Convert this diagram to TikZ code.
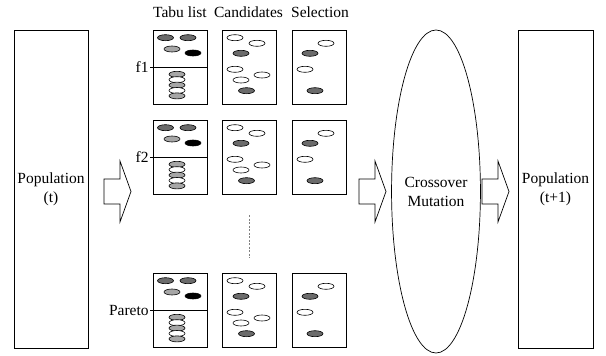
\documentclass[tikz,border=0pt]{standalone}
\usepackage{fontspec}
\setmainfont{Liberation Serif}
\usetikzlibrary{shapes.geometric}

\colorlet{dgray}{black!58}
\colorlet{lgray}{black!35}
\tikzset{
  popbox/.style={draw, minimum width=74pt, minimum height=318pt, inner sep=0pt, align=center},
  listbox/.style={draw, minimum width=54pt, minimum height=74pt, inner sep=0pt, anchor=north west},
  indiv/.style={draw, line width=0.6pt, fill=#1},
  bigarrow/.pic={\draw (0,-12.5) -- (16,-12.5) -- (16,-30.5) -- (27,0) -- (16,30.5) -- (16,12.5) -- (0,12.5) -- cycle;}
}
\newcommand{\ind}[3]{\draw[indiv=#3] (#1,#2) ellipse [x radius=8pt, y radius=3pt];}

\begin{document}
\begin{tikzpicture}[x=1pt, y=-1pt, line width=0.7pt, font=\fontsize{15.5}{19}\selectfont]
\useasboundingbox (0,0) rectangle (606,356);

\node[popbox] (pop) at (51,189) {Population\\(t)};
\node[popbox, minimum width=75pt] (newpop) at (555.5,189) {Population\\(t+1)};
\node[draw, ellipse, minimum width=70pt, minimum height=323pt, inner sep=0pt, align=center] (gen) at (436,191.5) {Crossover\\Mutation};

\pic at (104,191.5) {bigarrow};
\pic at (359,191.5) {bigarrow};
\pic at (482,191.5) {bigarrow};

\foreach \r/\t/\lab in {1/30/f1, 2/120/f2, 3/273/Pareto} {
  \node[listbox] (tabu\r) at (153,\t) {};
  \node[listbox] (cand\r) at (222,\t) {};
  \node[listbox] (sel\r) at (292,\t) {};
  \node[anchor=east, inner sep=1pt] (lab\r) at ([xshift=-3pt]tabu\r.west) {\lab};
  \draw (lab\r.east) -- (tabu\r.east);
  \begin{scope}[shift={(tabu\r.north west)}]
    \ind{12.5}{7.7}{dgray} \ind{35}{7.7}{dgray}
    \ind{19}{19}{lgray} \ind{40}{23}{black}
    \foreach \k/\c in {0/lgray, 1/white, 2/lgray, 3/white, 4/lgray} {
      \ind{24}{44.3+5.4*\k}{\c}
    }
  \end{scope}
  \begin{scope}[shift={(cand\r.north west)}]
    \ind{13}{7.7}{white} \ind{35}{13.3}{white} \ind{19}{23.3}{dgray}
    \ind{13}{39.3}{white} \ind{40}{45}{white} \ind{19}{50}{white}
    \ind{24.5}{60.7}{dgray}
  \end{scope}
  \begin{scope}[shift={(sel\r.north west)}]
    \ind{34}{13.3}{white} \ind{18}{23.3}{dgray}
    \ind{13}{39.3}{white} \ind{23}{60.7}{dgray}
  \end{scope}
}

\node[anchor=base] (htabu) at (180,17) {Tabu list};
\node[anchor=base] (hcand) at (248.5,17) {Candidates};
\node[anchor=base] (hsel) at (320,17) {Selection};

\coordinate (dtop) at (249,215);
\coordinate (dbot) at (249,258);
\draw[gray, dash pattern=on 2pt off 1.5pt] (dtop) -- (dbot);
\end{tikzpicture}
\end{document}
